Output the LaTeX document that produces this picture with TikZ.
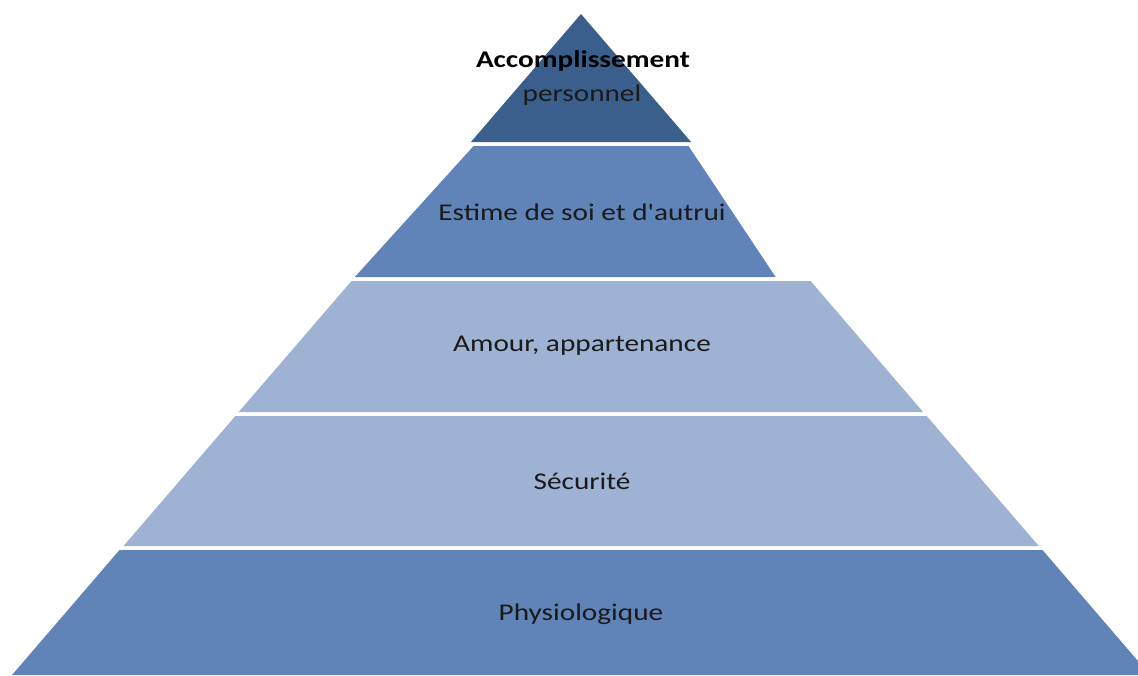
\documentclass[tikz,border=0pt]{standalone}
\usepackage{fontspec}
\setmainfont{Carlito}
\definecolor{topband}{HTML}{3A5F8C}
\definecolor{midband}{HTML}{6083B8}
\definecolor{lightband}{HTML}{9EB2D4}
\definecolor{txt}{HTML}{1A1A1A}
\begin{document}
\begin{tikzpicture}[x=1pt,y=-1pt,
  lbl/.style={text=txt,font=\fontsize{24}{28}\selectfont,align=center,inner sep=0pt,xscale=1.22}]
\useasboundingbox (0,0) rectangle (1138,675);
\clip (0,0) rectangle (1138,675);
% bands (apex 581,14, half-width = 0.86*(y-14))
\fill[topband] (581,14) -- (691.1,142) -- (470.9,142) -- cycle;
\fill[midband] (473.6,146) -- (688.5,146) -- (775.6,277) -- (354.8,277) -- cycle;
\fill[lightband] (351.5,281) -- (810.6,281) -- (923.1,412) -- (238.7,412) -- cycle;
\fill[lightband] (235.4,416) -- (926.7,416) -- (1038.8,546) -- (123.5,546) -- cycle;
\fill[midband] (119.5,550) -- (1042.5,550) -- (1150,675) -- (12,675) -- cycle;
% labels
\node[lbl,font=\fontsize{24}{28}\selectfont\bfseries,text=black] (l1) at (583,61) {Accomplissement};
\node[lbl] (l1b) at (582,95) {personnel};
\node[lbl] (l2) at (582,212) {Estime de soi et d\textquotesingle autrui};
\node[lbl] (l3) at (582,346) {Amour, appartenance};
\node[lbl] (l4) at (582,481) {Sécurité};
\node[lbl] (l5) at (581,614) {Physiologique};
\end{tikzpicture}
\end{document}
